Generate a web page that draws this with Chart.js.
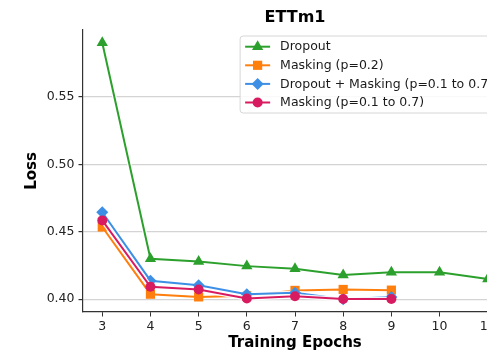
<!DOCTYPE html>
<html>
<head>
<meta charset="utf-8">
<script src="https://cdn.jsdelivr.net/npm/chart.js@4/dist/chart.umd.min.js"></script>
<style>
  html, body { margin: 0; padding: 0; background: #fff; overflow: hidden; }
  #wrap { width: 590px; height: 355px; }
</style>
</head>
<body>
<div id="wrap"><canvas id="c"></canvas></div>
<script>
// Training epochs and validation loss per regularisation strategy (ETTm1)
const epochs = [3, 4, 5, 6, 7, 8, 9, 10, 11];
const dropoutLoss = [0.590, 0.430, 0.428, 0.4245, 0.4225, 0.418, 0.420, 0.420, 0.415];
const masking02Loss = [0.4535, 0.4037, 0.4017, 0.4025, 0.4065, 0.4072, 0.4067];
const dropoutMaskingLoss = [0.4644, 0.4137, 0.4104, 0.4037, 0.4047, 0.4000, 0.4017];
const maskingRangeLoss = [0.4584, 0.4092, 0.4072, 0.4005, 0.4022, 0.4002, 0.4002];

const seriesLabels = ['Dropout', 'Masking (p=0.2)', 'Dropout + Masking (p=0.1 to 0.7)', 'Masking (p=0.1 to 0.7)'];
const seriesColors = ['#2ca02c', '#ff7f0e', '#3d8fe6', '#d81b60'];
const yTicks = [0.40, 0.45, 0.50, 0.55];
const xTicks = epochs;

const FONT = "'DejaVu Sans', sans-serif";

function toPoints(values) {
  return values.map((v, i) => ({ x: epochs[i], y: v }));
}

// axis limits with a 5% margin around the data
const allY = [].concat(dropoutLoss, masking02Loss, dropoutMaskingLoss, maskingRangeLoss);
const yLo = Math.min(...allY), yHi = Math.max(...allY);
const xLo = Math.min(...epochs), xHi = Math.max(...epochs);
const yPad = (yHi - yLo) * 0.05, xPad = (xHi - xLo) * 0.05;

const styles = [
  { pointStyle: 'triangle', radius: 6.5 },
  { pointStyle: 'rect', radius: 6.5 },
  { pointStyle: 'rectRot', radius: 6 },
  { pointStyle: 'circle', radius: 5 }
];
const seriesData = [dropoutLoss, masking02Loss, dropoutMaskingLoss, maskingRangeLoss];

const datasets = seriesData.map((vals, i) => ({
  label: seriesLabels[i],
  data: toPoints(vals),
  borderColor: seriesColors[i],
  backgroundColor: seriesColors[i],
  borderWidth: 2,
  pointStyle: styles[i].pointStyle,
  pointRadius: styles[i].radius,
  pointBorderWidth: 0,
  pointBackgroundColor: seriesColors[i],
  tension: 0,
  order: 3 - i
}));

// thin white outline under every line
const haloPlugin = {
  id: 'halo',
  beforeDatasetDraw(chart, args) {
    const pts = args.meta.data;
    const ctx = chart.ctx;
    ctx.save();
    ctx.beginPath();
    pts.forEach((p, i) => i ? ctx.lineTo(p.x, p.y) : ctx.moveTo(p.x, p.y));
    ctx.strokeStyle = 'rgba(255,255,255,0.9)';
    ctx.lineWidth = 4.5;
    ctx.lineJoin = 'round';
    ctx.stroke();
    ctx.restore();
  }
};

// legend box in the upper right corner of the plot
const legendPlugin = {
  id: 'boxLegend',
  afterDraw(chart) {
    const ctx = chart.ctx;
    const area = chart.chartArea;
    const fs = 12.5;
    ctx.save();
    ctx.font = fs + 'px ' + FONT;
    const textW = Math.max(...seriesLabels.map(t => ctx.measureText(t).width));
    const pad = 5, handle = 25, gap = 10, rowH = 18.6;
    const right = area.right - 9, top = area.top + 6;
    const width = pad + handle + gap + textW + pad;
    const height = 77;
    const left = right - width;
    ctx.beginPath();
    ctx.roundRect(left, top, width, height, 3);
    ctx.fillStyle = 'rgba(255,255,255,0.85)';
    ctx.fill();
    ctx.strokeStyle = '#d6d6d6';
    ctx.lineWidth = 1;
    ctx.stroke();
    seriesLabels.forEach((t, i) => {
      const cy = top + 10.7 + i * rowH;
      const hx = left + pad;
      ctx.beginPath();
      ctx.moveTo(hx, cy);
      ctx.lineTo(hx + handle, cy);
      ctx.strokeStyle = seriesColors[i];
      ctx.lineWidth = 2;
      ctx.stroke();
      ctx.fillStyle = seriesColors[i];
      Chart.helpers.drawPoint(ctx, { pointStyle: styles[i].pointStyle, radius: styles[i].radius, rotation: 0, borderWidth: 0 }, hx + handle / 2, cy);
      ctx.fillStyle = '#1a1a1a';
      ctx.textBaseline = 'middle';
      ctx.textAlign = 'left';
      ctx.fillText(t, hx + handle + gap, cy + 0.5);
    });
    ctx.restore();
  }
};

new Chart(document.getElementById('c'), {
  type: 'line',
  data: { datasets },
  plugins: [haloPlugin, legendPlugin],
  options: {
    responsive: true,
    maintainAspectRatio: false,
    animation: false,
    devicePixelRatio: 1,
    layout: { padding: { left: 0, right: 83, top: 0, bottom: 0 } },
    plugins: {
      legend: { display: false },
      tooltip: { enabled: false },
      title: {
        display: true,
        fullSize: false,
        text: 'ETTm1',
        color: '#000',
        font: { family: FONT, size: 16, weight: 'bold', lineHeight: 1.2 },
        padding: { top: 8, bottom: 2.8 }
      }
    },
    scales: {
      x: {
        type: 'linear',
        min: xLo - xPad,
        max: xHi + xPad,
        afterBuildTicks(scale) { scale.ticks = xTicks.map(v => ({ value: v })); },
        afterFit(scale) { scale.height = 43; },
        ticks: {
          color: '#222',
          font: { family: FONT, size: 12.5 },
          padding: 3,
          maxRotation: 0,
          autoSkip: false,
          callback: v => String(v)
        },
        grid: { drawOnChartArea: false, tickLength: 4.5, tickColor: '#333', color: '#333' },
        border: { display: true, color: '#333', width: 1.2 },
        title: {
          display: true,
          text: 'Training Epochs',
          color: '#000',
          font: { family: FONT, size: 15, weight: 'bold', lineHeight: 1.2 },
          padding: { top: 0, bottom: 3 }
        }
      },
      y: {
        type: 'linear',
        min: yLo - yPad,
        max: yHi + yPad,
        afterBuildTicks(scale) { scale.ticks = yTicks.map(v => ({ value: v })); },
        afterFit(scale) { scale.width = 83; },
        ticks: {
          color: '#222',
          font: { family: FONT, size: 12.5 },
          padding: 4,
          autoSkip: false,
          callback: v => Number(v).toFixed(2)
        },
        grid: { color: '#d4d4d4', lineWidth: 1.2, tickLength: 4.5, tickColor: '#333' },
        border: { display: true, color: '#333', width: 1.2 },
        title: {
          display: true,
          text: 'Loss',
          color: '#000',
          font: { family: FONT, size: 15, weight: 'bold', lineHeight: 1.2 },
          padding: { top: 23 }
        }
      }
    }
  }
});
</script>
</body>
</html>
